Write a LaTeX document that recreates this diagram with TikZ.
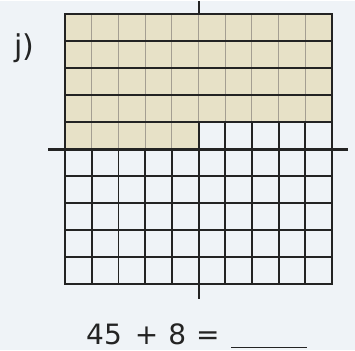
\documentclass[tikz,border=0pt]{standalone}
\usepackage{fontspec}
\setmainfont{DejaVu Sans}
\usetikzlibrary{positioning}
\definecolor{paper}{HTML}{EFF3F7}
\definecolor{ink}{HTML}{232323}
\definecolor{sand}{HTML}{E7E1C7}
\definecolor{faint}{HTML}{A49E92}

\begin{document}
\begin{tikzpicture}[x=1pt,y=-1pt]
  \fill[paper] (0,0) rectangle (355,349);
  % 45 of the hundred cells are shaded
  \fill[sand] (65,13) -- (332,13) -- (332,121) -- (198.5,121) -- (198.5,148) -- (65,148) -- cycle;
  \foreach \i in {1,...,9}
    \draw[faint,line width=0.9pt] ({65+26.7*\i},13) -- ({65+26.7*\i},121);
  \foreach \i in {1,...,4}
    \draw[faint,line width=0.9pt] ({65+26.7*\i},121) -- ({65+26.7*\i},148);
  \foreach \j in {1,...,4}
    \draw[ink,line width=2.2pt] (65,{13+27*\j}) -- (332,{13+27*\j});
  % the white cells
  \foreach \i in {0,...,10}
    \draw[ink,line width=1.8pt] ({65+26.7*\i},148) -- ({65+26.7*\i},283);
  \foreach \i in {6,...,10}
    \draw[ink,line width=1.8pt] ({65+26.7*\i},121) -- ({65+26.7*\i},148);
  \foreach \j in {6,...,10}
    \draw[ink,line width=1.8pt] (65,{13+27*\j}) -- (332,{13+27*\j});
  \draw[ink,line width=2.3pt,line cap=rect] (65,283) -- (65,13) -- (332,13) -- (332,283);
  % the two axes
  \draw[ink,line width=2.6pt] (48,148) -- (348,148);
  \draw[ink,line width=2.6pt] (199,0) -- (199,13);
  \draw[ink,line width=2.6pt] (199,121) -- (199,298);
  \node[ink,font=\fontsize{30}{32}\selectfont,anchor=base west,inner sep=0pt] (part) at (14,55) {j)};
  \node[ink,font=\fontsize{28}{30}\selectfont,anchor=base west,inner sep=0pt] (sum) at (86,343) {45\hspace{13pt}+\hspace{10pt}8\hspace{10pt}=};
  \node[minimum width=76pt,inner sep=0pt,anchor=south west] (answer) at (231,346) {};
  \draw[ink,line width=1.3pt] (answer.south west) -- (answer.south east);
\end{tikzpicture}
\end{document}
